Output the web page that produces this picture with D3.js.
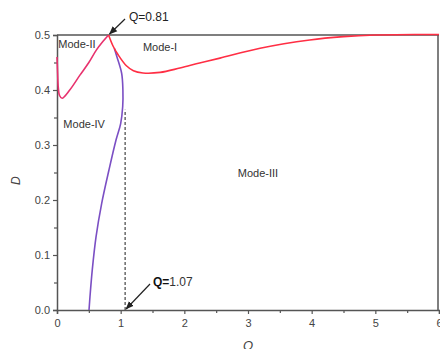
<!DOCTYPE html>
<meta charset="utf-8">
<script src="https://d3js.org/d3.v7.min.js"></script>
<style>
  body { margin: 0; background: #fff; }
  text { font-family: "Liberation Sans", Arial, sans-serif; }
</style>
<div id="chart"></div>
<script>
  // data
  var redLeftQ = [0, 0.01, 0.02, 0.04, 0.08, 0.2, 0.36, 0.5, 0.62, 0.72, 0.81];
  var redLeftD = [0.46, 0.43, 0.405, 0.39, 0.385, 0.40, 0.427, 0.45, 0.473, 0.488, 0.5];

  var redRightQ = [0.81, 0.88, 0.96, 1.09, 1.2, 1.35, 1.62, 1.93, 2.24, 2.56, 3.19, 3.97, 4.5, 5.0, 5.7, 6];
  var redRightD = [0.5, 0.48, 0.464, 0.444, 0.435, 0.431, 0.432, 0.44, 0.449, 0.458, 0.476, 0.491, 0.497, 0.5, 0.501, 0.501];

  var purpleQ = [0.503, 0.518, 0.554, 0.613, 0.702, 0.817, 0.927, 1.0, 1.032, 1.035, 1.016, 0.942, 0.9];
  var purpleD = [0, 0.024, 0.073, 0.133, 0.194, 0.255, 0.309, 0.339, 0.370, 0.40, 0.430, 0.46, 0.476];

  var xTicks = [0, 1, 2, 3, 4, 5, 6];
  var yTicks = [0.0, 0.1, 0.2, 0.3, 0.4, 0.5];
  var dashQ = 1.07, dashTop = 0.364;

  var modeLabels = [
    { text: "Mode-II", q: 0.02, d: 0.477 },
    { text: "Mode-I", q: 1.35, d: 0.471 },
    { text: "Mode-IV", q: 0.1, d: 0.331 },
    { text: "Mode-III", q: 2.84, d: 0.242 }
  ];

  var W = 440, H = 349;
  var margin = { top: 35, right: 1, bottom: 39, left: 57 };

  var svg = d3.select("#chart").append("svg")
      .attr("width", W).attr("height", H);

  var x = d3.scaleLinear().domain([0, 6]).range([margin.left, W - margin.right]);
  var y = d3.scaleLinear().domain([0, 0.5]).range([H - margin.bottom, margin.top]);

  var axisColor = "#555";

  // frame (top and right)
  svg.append("line")
      .attr("x1", x(0)).attr("x2", x(6)).attr("y1", y(0.5)).attr("y2", y(0.5))
      .attr("stroke", axisColor).attr("stroke-width", 1.5);
  svg.append("line")
      .attr("x1", x(6) - 1).attr("x2", x(6) - 1).attr("y1", y(0.5)).attr("y2", y(0))
      .attr("stroke", axisColor).attr("stroke-width", 1.5);

  // X axis
  svg.append("g")
      .attr("transform", "translate(0," + y(0) + ")")
      .call(d3.axisBottom(x).tickValues(xTicks).tickFormat(d3.format("d")).tickSize(4).tickPadding(5));
  svg.append("g")
      .attr("transform", "translate(0," + y(0) + ")")
      .call(d3.axisBottom(x).tickValues(d3.range(0.5, 6, 1)).tickFormat("").tickSize(3))
      .select(".domain").remove();

  // Y axis
  svg.append("g")
      .attr("transform", "translate(" + x(0) + ",0)")
      .call(d3.axisLeft(y).tickValues(yTicks).tickFormat(d3.format(".1f")).tickSize(4).tickPadding(3));
  svg.append("g")
      .attr("transform", "translate(" + x(0) + ",0)")
      .call(d3.axisLeft(y).tickValues(d3.range(0.05, 0.5, 0.1)).tickFormat("").tickSize(3))
      .select(".domain").remove();

  svg.selectAll(".domain").attr("stroke", axisColor).attr("stroke-width", 1.5);
  svg.selectAll(".tick line").attr("stroke", axisColor).attr("stroke-width", 1.2);
  svg.selectAll(".tick text").attr("fill", "#444").style("font-size", "11px");

  // axis titles
  svg.append("text")
      .attr("x", x(3)).attr("y", H + 1)
      .attr("text-anchor", "middle")
      .style("font-style", "italic").style("font-size", "13px").attr("fill", "#444")
      .text("Q");
  svg.append("text")
      .attr("transform", "translate(20," + y(0.235) + ") rotate(-90)")
      .attr("text-anchor", "middle")
      .style("font-style", "italic").style("font-size", "12px").attr("fill", "#444")
      .text("D");

  // dashed line at Q=1.07
  svg.append("line")
      .attr("x1", x(dashQ)).attr("x2", x(dashQ))
      .attr("y1", y(0)).attr("y2", y(dashTop))
      .attr("stroke", "#444").attr("stroke-width", 1.2)
      .attr("stroke-dasharray", "3,2");

  var line = d3.line()
      .x(function (d) { return x(d[0]); })
      .y(function (d) { return y(d[1]); })
      .curve(d3.curveCatmullRom.alpha(0.5));

  // purple curve
  svg.append("path")
      .datum(d3.zip(purpleQ, purpleD))
      .attr("d", line)
      .attr("fill", "none").attr("stroke", "#7b4fc4").attr("stroke-width", 1.6);

  // red curves
  svg.append("path")
      .datum(d3.zip(redLeftQ, redLeftD))
      .attr("d", line)
      .attr("fill", "none").attr("stroke", "#e8326e").attr("stroke-width", 1.6);
  svg.append("path")
      .datum(d3.zip(redRightQ, redRightD))
      .attr("d", line)
      .attr("fill", "none").attr("stroke", "#ff2e44").attr("stroke-width", 1.6);

  // mode labels
  svg.selectAll(".mode")
      .data(modeLabels)
      .enter().append("text")
      .attr("class", "mode")
      .attr("x", function (d) { return x(d.q); })
      .attr("y", function (d) { return y(d.d); })
      .style("font-size", "11px").attr("fill", "#333")
      .text(function (d) { return d.text; });

  // arrows
  svg.append("defs").append("marker")
      .attr("id", "arrow")
      .attr("viewBox", "0 0 10 10").attr("refX", 9).attr("refY", 5)
      .attr("markerWidth", 7).attr("markerHeight", 7)
      .attr("orient", "auto")
      .append("path").attr("d", "M0,1L10,5L0,9z").attr("fill", "#222");

  svg.append("line")
      .attr("x1", 125).attr("y1", 19)
      .attr("x2", x(0.81) + 1).attr("y2", y(0.5) - 1)
      .attr("stroke", "#222").attr("stroke-width", 1.2)
      .attr("marker-end", "url(#arrow)");
  svg.append("text")
      .attr("x", 129).attr("y", 21)
      .style("font-size", "12px").attr("fill", "#222")
      .text("Q=0.81");

  svg.append("line")
      .attr("x1", 150).attr("y1", 284)
      .attr("x2", x(dashQ) + 1).attr("y2", y(0) - 1)
      .attr("stroke", "#222").attr("stroke-width", 1.2)
      .attr("marker-end", "url(#arrow)");
  var t2 = svg.append("text")
      .attr("x", 153).attr("y", 286)
      .style("font-size", "12px").attr("fill", "#333");
  t2.append("tspan").style("font-weight", "bold").attr("fill", "#111").text("Q=");
  t2.append("tspan").text("1.07");
</script>
